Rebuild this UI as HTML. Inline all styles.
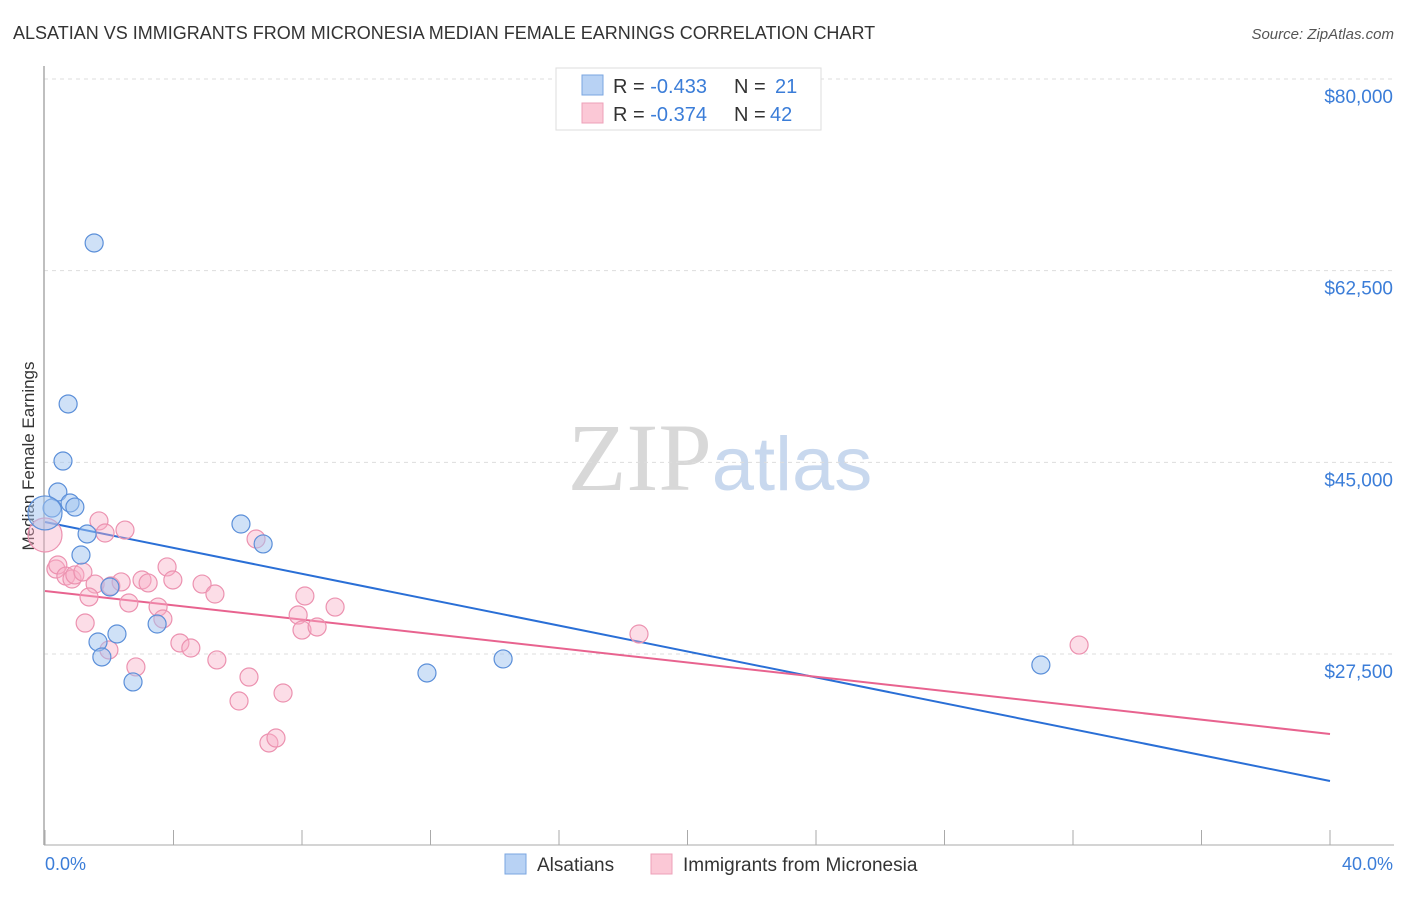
<!DOCTYPE html>
<html><head><meta charset="utf-8"><style>
body{margin:0;background:#fff;font-family:"Liberation Sans",sans-serif;}
svg text{font-family:"Liberation Sans",sans-serif;}
</style></head><body>
<svg id="chart" width="1406" height="892" xmlns="http://www.w3.org/2000/svg">
<text x="13" y="39" font-size="18" fill="#333">ALSATIAN VS IMMIGRANTS FROM MICRONESIA MEDIAN FEMALE EARNINGS CORRELATION CHART</text>
<text x="1394" y="39" font-size="15" fill="#555" text-anchor="end" font-style="italic">Source: ZipAtlas.com</text>
<text x="720" y="490" font-size="96" text-anchor="middle"><tspan fill="#d8d8d8" font-family="Liberation Serif">ZIP</tspan><tspan fill="#c8d8ee" font-size="76">atlas</tspan></text>
<text transform="translate(34,456) rotate(-90)" font-size="17" fill="#333" text-anchor="middle">Median Female Earnings</text>
<g id="grid"></g>
<line x1="44" y1="66" x2="44" y2="845" stroke="#aaa" stroke-width="1.5"/>
<line x1="44" y1="845" x2="1394" y2="845" stroke="#aaa" stroke-width="1"/>
<g id="xticks"></g>
<g id="trends"></g>
<g id="points"></g>
<text x="45" y="870" font-size="18" fill="#3b7dd8">0.0%</text>
<text x="1393" y="870" font-size="18" fill="#3b7dd8" text-anchor="end">40.0%</text>
<g>
<rect x="556" y="68" width="265" height="62" fill="#fff" stroke="#ddd"/>
<rect x="582" y="75" width="21" height="20" fill="#b8d2f4" stroke="#7aa6e0"/>
<rect x="582" y="103" width="21" height="20" fill="#fbc8d6" stroke="#eea0b8"/>
<text x="613" y="93" font-size="20" fill="#333">R = <tspan fill="#3b7dd8">-0.433</tspan><tspan x="734">N = </tspan><tspan fill="#3b7dd8" x="775">21</tspan></text>
<text x="613" y="121" font-size="20" fill="#333">R = <tspan fill="#3b7dd8">-0.374</tspan><tspan x="734">N = </tspan><tspan fill="#3b7dd8" x="770">42</tspan></text>
</g>
<g>
<rect x="505" y="854" width="21" height="20" fill="#b8d2f4" stroke="#7aa6e0"/>
<text x="537" y="871" font-size="19" fill="#333">Alsatians</text>
<rect x="651" y="854" width="21" height="20" fill="#fbc8d6" stroke="#eea0b8"/>
<text x="683" y="871" font-size="19" fill="#333">Immigrants from Micronesia</text>
</g>
</svg>
<script>
const yTicks=[80000,62500,45000,27500];
const yTickLabels=["$80,000","$62,500","$45,000","$27,500"];
const xTicks=[0,4,8,12,16,20,24,28,32,36,40];
const blueX=[1.53,0.72,0.56,0.40,0.78,0.93,0.22,0.0,1.31,1.12,2.02,3.49,2.24,1.65,1.77,2.74,6.10,6.79,11.89,14.26,31.00];
const blueY=[65030,50330,45120,42290,41290,40920,40830,40380,38460,36540,33620,30240,29330,28600,27230,24950,39370,37550,25770,27050,26500];
const blueR=[9,9,9,9,9,9,9,17,9,9,9,9,9,9,9,9,9,9,9,9,9];
const pinkX=[0,1.68,2.49,1.87,0.34,0.40,0.65,0.84,0.93,1.18,1.56,1.37,2.05,2.37,1.25,1.99,2.83,3.02,3.21,3.80,3.98,2.61,3.52,3.67,4.20,4.54,4.89,5.29,5.35,6.35,6.04,6.57,7.41,6.97,7.19,7.88,8.00,8.09,8.47,9.03,18.49,32.19];
const pinkY=[38370,39650,38820,38550,35260,35630,34620,34350,34720,34990,33890,32710,33710,34080,30330,27870,26320,34260,33990,35450,34260,32160,31790,30700,28510,28050,33890,32980,26960,25400,23210,38000,23940,19380,19830,31060,29690,32800,29970,31790,29330,28320];
const blueTrend=[39555,15907];
const pinkTrend=[33254,20199];
const NS="http://www.w3.org/2000/svg";
function xs(v){return 45+v/40*1285;}
function ys(v){return 79+(80000-v)/91.3;}
function mk(tag,attrs,parent){const e=document.createElementNS(NS,tag);for(const k in attrs)e.setAttribute(k,attrs[k]);parent.appendChild(e);return e;}
const grid=document.getElementById('grid');
yTicks.forEach((t,i)=>{
 const l=mk('line',{x1:44,x2:1394,y1:ys(t),y2:ys(t),stroke:'#ddd','stroke-dasharray':'4,4'},grid);
 
 
 const tx=mk('text',{x:1393,y:ys(t)+24,'font-size':19,fill:'#3b7dd8','text-anchor':'end'},grid);
 tx.textContent=yTickLabels[i];
 
 
});
const xt=document.getElementById('xticks');
xTicks.forEach(t=>{
 const l=mk('line',{x1:xs(t),x2:xs(t),y1:830,y2:845,stroke:'#aaa'},xt);
 
 
});
const tr=document.getElementById('trends');
const bl=mk('line',{x1:xs(0),x2:xs(40),y1:ys(blueTrend[0]),y2:ys(blueTrend[1]),stroke:'#2a6fd6','stroke-width':2},tr);


const pl=mk('line',{x1:xs(0),x2:xs(40),y1:ys(pinkTrend[0]),y2:ys(pinkTrend[1]),stroke:'#e8638f','stroke-width':2},tr);


const pts=document.getElementById('points');
pinkX.forEach((x,i)=>{
 const c=mk('circle',{cx:xs(x),cy:ys(pinkY[i]),r:i==0?17:9,fill:'rgba(248,175,198,0.42)',stroke:'#ec92b0','stroke-width':1.2},pts);
 
 
});
blueX.forEach((x,i)=>{
 const c=mk('circle',{cx:xs(x),cy:ys(blueY[i]),r:blueR[i],fill:'rgba(160,196,240,0.5)',stroke:'#5b8fd9','stroke-width':1.2},pts);
 
 
});
</script>
</body></html>
